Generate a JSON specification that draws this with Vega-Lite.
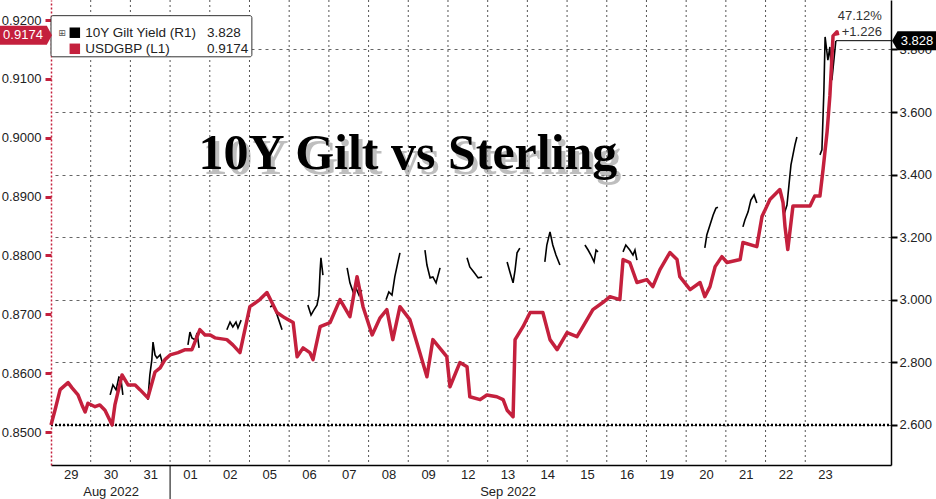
{
"$schema":"https://vega.github.io/schema/vega-lite/v6.json",
"width":840,"height":465,
"autosize":{"type":"none"},
"padding":{"left":51,"top":0,"right":45,"bottom":34},
"background":"#ffffff",
"config":{"view":{"stroke":null},"font":"Liberation Sans"},
"datasets":{
"bounds":[{"t":1},{"t":2},{"t":3},{"t":4},{"t":5},{"t":6},{"t":7},{"t":8},{"t":9},{"t":10},{"t":11},{"t":12},{"t":13},{"t":14},{"t":15},{"t":16},{"t":17},{"t":18},{"t":19}],
"fx":[{"t":0.00,"v":0.8512},{"t":0.10,"v":0.8537},{"t":0.23,"v":0.8572},{"t":0.43,"v":0.8584},{"t":0.53,"v":0.8575},{"t":0.68,"v":0.8563},{"t":0.78,"v":0.8546},{"t":0.86,"v":0.8534},{"t":0.93,"v":0.8549},{"t":1.11,"v":0.8543},{"t":1.23,"v":0.8546},{"t":1.36,"v":0.8537},{"t":1.54,"v":0.8512},{"t":1.61,"v":0.8546},{"t":1.79,"v":0.8597},{"t":1.94,"v":0.8580},{"t":2.12,"v":0.8580},{"t":2.24,"v":0.8572},{"t":2.44,"v":0.8558},{"t":2.62,"v":0.8602},{"t":2.75,"v":0.8609},{"t":2.87,"v":0.8623},{"t":3.00,"v":0.8631},{"t":3.20,"v":0.8635},{"t":3.38,"v":0.8640},{"t":3.55,"v":0.8640},{"t":3.75,"v":0.8674},{"t":3.88,"v":0.8665},{"t":4.01,"v":0.8665},{"t":4.13,"v":0.8660},{"t":4.43,"v":0.8657},{"t":4.58,"v":0.8648},{"t":4.76,"v":0.8635},{"t":5.01,"v":0.8713},{"t":5.26,"v":0.8725},{"t":5.44,"v":0.8737},{"t":5.69,"v":0.8703},{"t":5.89,"v":0.8694},{"t":6.10,"v":0.8686},{"t":6.20,"v":0.8628},{"t":6.35,"v":0.8643},{"t":6.52,"v":0.8635},{"t":6.60,"v":0.8623},{"t":6.78,"v":0.8679},{"t":7.03,"v":0.8686},{"t":7.28,"v":0.8725},{"t":7.53,"v":0.8696},{"t":7.71,"v":0.8764},{"t":7.86,"v":0.8713},{"t":8.09,"v":0.8665},{"t":8.29,"v":0.8694},{"t":8.46,"v":0.8708},{"t":8.61,"v":0.8657},{"t":8.79,"v":0.8713},{"t":9.04,"v":0.8691},{"t":9.29,"v":0.8635},{"t":9.47,"v":0.8594},{"t":9.62,"v":0.8657},{"t":9.97,"v":0.8628},{"t":10.05,"v":0.8577},{"t":10.30,"v":0.8618},{"t":10.48,"v":0.8611},{"t":10.55,"v":0.8560},{"t":10.81,"v":0.8555},{"t":10.98,"v":0.8563},{"t":11.23,"v":0.8560},{"t":11.39,"v":0.8555},{"t":11.49,"v":0.8537},{"t":11.64,"v":0.8526},{"t":11.69,"v":0.8657},{"t":11.89,"v":0.8679},{"t":12.07,"v":0.8703},{"t":12.39,"v":0.8703},{"t":12.57,"v":0.8657},{"t":12.75,"v":0.8640},{"t":13.00,"v":0.8669},{"t":13.25,"v":0.8662},{"t":13.40,"v":0.8679},{"t":13.65,"v":0.8708},{"t":13.90,"v":0.8720},{"t":14.08,"v":0.8730},{"t":14.33,"v":0.8725},{"t":14.41,"v":0.8793},{"t":14.58,"v":0.8788},{"t":14.76,"v":0.8754},{"t":15.01,"v":0.8759},{"t":15.16,"v":0.8747},{"t":15.34,"v":0.8776},{"t":15.59,"v":0.8805},{"t":15.77,"v":0.8793},{"t":15.84,"v":0.8764},{"t":16.10,"v":0.8742},{"t":16.35,"v":0.8754},{"t":16.47,"v":0.8730},{"t":16.60,"v":0.8747},{"t":16.73,"v":0.8781},{"t":16.90,"v":0.8798},{"t":17.03,"v":0.8788},{"t":17.36,"v":0.8793},{"t":17.43,"v":0.8822},{"t":17.78,"v":0.8815},{"t":17.91,"v":0.8866},{"t":18.11,"v":0.8895},{"t":18.36,"v":0.8912},{"t":18.44,"v":0.8890},{"t":18.49,"v":0.8849},{"t":18.56,"v":0.8810},{"t":18.69,"v":0.8884},{"t":18.87,"v":0.8884},{"t":19.12,"v":0.8884},{"t":19.24,"v":0.8901},{"t":19.37,"v":0.8901},{"t":19.45,"v":0.8947},{"t":19.55,"v":0.9010},{"t":19.62,"v":0.9071},{"t":19.67,"v":0.9134},{"t":19.70,"v":0.9173},{"t":19.80,"v":0.9180},{"t":19.82,"v":0.9174}],
"gilt":[{"s":"a","t":1.49,"v":2.696},{"s":"a","t":1.56,"v":2.728},{"s":"a","t":1.64,"v":2.712},{"s":"a","t":1.71,"v":2.753},{"s":"a","t":1.76,"v":2.750},{"s":"a","t":1.81,"v":2.696},
{"s":"b","t":2.44,"v":2.680},{"s":"b","t":2.49,"v":2.760},{"s":"b","t":2.54,"v":2.808},{"s":"b","t":2.57,"v":2.865},{"s":"b","t":2.62,"v":2.824},{"s":"b","t":2.67,"v":2.814},{"s":"b","t":2.75,"v":2.824},{"s":"b","t":2.82,"v":2.792},
{"s":"c","t":3.45,"v":2.856},{"s":"c","t":3.50,"v":2.897},{"s":"c","t":3.55,"v":2.878},{"s":"c","t":3.63,"v":2.872},{"s":"c","t":3.68,"v":2.894},{"s":"c","t":3.73,"v":2.846},
{"s":"d","t":4.43,"v":2.904},{"s":"d","t":4.51,"v":2.929},{"s":"d","t":4.58,"v":2.913},{"s":"d","t":4.66,"v":2.929},{"s":"d","t":4.71,"v":2.910},{"s":"d","t":4.79,"v":2.935},
{"s":"e","t":5.52,"v":2.977},{"s":"e","t":5.59,"v":2.983},{"s":"e","t":5.67,"v":2.961},{"s":"e","t":5.74,"v":2.935},{"s":"e","t":5.82,"v":2.904},
{"s":"f","t":6.47,"v":2.983},{"s":"f","t":6.55,"v":2.951},{"s":"f","t":6.62,"v":2.967},{"s":"f","t":6.70,"v":2.983},{"s":"f","t":6.75,"v":3.015},{"s":"f","t":6.78,"v":3.095},{"s":"f","t":6.80,"v":3.134},{"s":"f","t":6.85,"v":3.079},
{"s":"g","t":7.46,"v":3.102},{"s":"g","t":7.53,"v":3.054},{"s":"g","t":7.61,"v":3.025},{"s":"g","t":7.68,"v":3.038},{"s":"g","t":7.76,"v":3.015},{"s":"g","t":7.83,"v":3.031},
{"s":"h","t":8.44,"v":3.000},{"s":"h","t":8.51,"v":3.025},{"s":"h","t":8.59,"v":3.015},{"s":"h","t":8.66,"v":3.073},{"s":"h","t":8.74,"v":3.121},{"s":"h","t":8.79,"v":3.150},
{"s":"i","t":9.42,"v":3.159},{"s":"i","t":9.47,"v":3.111},{"s":"i","t":9.55,"v":3.070},{"s":"i","t":9.62,"v":3.073},{"s":"i","t":9.70,"v":3.054},{"s":"i","t":9.80,"v":3.102},
{"s":"j","t":10.48,"v":3.134},{"s":"j","t":10.55,"v":3.105},{"s":"j","t":10.65,"v":3.089},{"s":"j","t":10.76,"v":3.070},{"s":"j","t":10.86,"v":3.073},
{"s":"k","t":11.49,"v":3.121},{"s":"k","t":11.56,"v":3.089},{"s":"k","t":11.64,"v":3.054},{"s":"k","t":11.69,"v":3.095},{"s":"k","t":11.74,"v":3.150},{"s":"k","t":11.81,"v":3.165},
{"s":"l","t":12.44,"v":3.121},{"s":"l","t":12.49,"v":3.175},{"s":"l","t":12.57,"v":3.217},{"s":"l","t":12.64,"v":3.175},{"s":"l","t":12.72,"v":3.143},{"s":"l","t":12.82,"v":3.111},
{"s":"m","t":13.45,"v":3.175},{"s":"m","t":13.53,"v":3.159},{"s":"m","t":13.60,"v":3.143},{"s":"m","t":13.68,"v":3.121},{"s":"m","t":13.73,"v":3.159},{"s":"m","t":13.78,"v":3.153},
{"s":"n","t":14.41,"v":3.153},{"s":"n","t":14.48,"v":3.175},{"s":"n","t":14.58,"v":3.159},{"s":"n","t":14.66,"v":3.143},{"s":"n","t":14.71,"v":3.159},{"s":"n","t":14.76,"v":3.127},
{"s":"o","t":16.47,"v":3.166},{"s":"o","t":16.52,"v":3.207},{"s":"o","t":16.60,"v":3.239},{"s":"o","t":16.68,"v":3.271},{"s":"o","t":16.75,"v":3.293},{"s":"o","t":16.80,"v":3.296},
{"s":"p","t":17.43,"v":3.233},{"s":"p","t":17.48,"v":3.255},{"s":"p","t":17.56,"v":3.281},{"s":"p","t":17.63,"v":3.319},{"s":"p","t":17.71,"v":3.335},{"s":"p","t":17.78,"v":3.309},
{"s":"q","t":18.46,"v":3.271},{"s":"q","t":18.54,"v":3.303},{"s":"q","t":18.59,"v":3.367},{"s":"q","t":18.64,"v":3.431},{"s":"q","t":18.69,"v":3.463},{"s":"q","t":18.74,"v":3.495},{"s":"q","t":18.79,"v":3.520},
{"s":"r","t":19.37,"v":3.463},{"s":"r","t":19.42,"v":3.479},{"s":"r","t":19.47,"v":3.670},{"s":"r","t":19.50,"v":3.840},{"s":"r","t":19.57,"v":3.766},{"s":"r","t":19.62,"v":3.808},{"s":"r","t":19.67,"v":3.702},{"s":"r","t":19.77,"v":3.827}]
},
"encoding":{"x":{"field":"t","type":"quantitative","scale":{"domain":[0,21.16],"nice":false,"zero":false},
 "axis":{"values":[0.5,1.5,2.5,3.5,4.5,5.5,6.5,7.5,8.5,9.5,10.5,11.5,12.5,13.5,14.5,15.5,16.5,17.5,18.5,19.5],
 "labelExpr":"datum.value == 1.5 ? ['30','Aug 2022'] : (datum.value == 11.5 ? ['13','Sep 2022'] : ['29','30','31','01','02','05','06','07','08','09','12','13','14','15','16','19','20','21','22','23'][floor(datum.value)])",
 "title":null,"grid":false,"ticks":false,"domainColor":"#000000","domainWidth":1.5,"labelFont":"Liberation Sans","labelFontSize":13,"labelColor":"#222222","labelPadding":3,"labelBaseline":"top","labelLineHeight":17,"labelFlush":false,"labelOverlap":false}}},
"layer":[
 {"data":{"name":"bounds"},"mark":{"type":"rule","color":"#555555","strokeDash":[2,3],"strokeWidth":1}},
 {"encoding":{"y":{"field":"v","type":"quantitative","scale":{"domain":[2.472,3.958],"nice":false,"zero":false},
   "axis":{"orient":"right","values":[2.6,2.8,3.0,3.2,3.4,3.6,3.8],"format":".3f","title":null,"grid":true,"gridDash":[3,4],"gridColor":"#666666","gridWidth":1,"domainColor":"#000000","domainWidth":1.5,"tickColor":"#000000","tickSize":6,"tickWidth":2,"labelFont":"Liberation Sans","labelColor":"#222222","labelFontSize":13,"labelPadding":2}}},
  "layer":[
   {"data":{"values":[{"t":0,"t2":21.16,"v":2.6}]},"mark":{"type":"rule","color":"#000000","strokeWidth":2.5,"strokeDash":[2,2]},"encoding":{"x2":{"field":"t2"}}},
   {"data":{"name":"gilt"},"mark":{"type":"line","color":"#000000","strokeWidth":1.6},"encoding":{"detail":{"field":"s","type":"nominal"}}},
   {"data":{"values":[{"t":19.77,"t2":21.16,"v":3.828}]},"mark":{"type":"rule","color":"#000000","strokeWidth":1},"encoding":{"x2":{"field":"t2"}}},
   {"data":{"values":[{"t":20.93,"v":3.907,"label":"47.12%"},{"t":20.93,"v":3.856,"label":"+1.226"}]},"mark":{"type":"text","align":"right","baseline":"middle","fontSize":13,"color":"#333333","font":"Liberation Sans"},"encoding":{"text":{"field":"label"}}},
   {"data":{"values":[{"t":21.74,"v":3.828}]},"mark":{"type":"point","shape":"M-1,0 L-0.75,-0.43 L1,-0.43 L1,0.43 L-0.75,0.43 Z","size":1936,"filled":true,"color":"#000000","opacity":1}},
   {"data":{"values":[{"t":21.74,"v":3.828,"label":"3.828"}]},"mark":{"type":"text","align":"center","baseline":"middle","dx":3,"fontSize":13,"color":"#ffffff","font":"Liberation Sans"},"encoding":{"text":{"field":"label"}}}
  ]},
 {"encoding":{"y":{"field":"v","type":"quantitative","scale":{"domain":[0.8444,0.9234],"nice":false,"zero":false},
   "axis":{"orient":"left","values":[0.85,0.86,0.87,0.88,0.89,0.90,0.91,0.92],"format":".4f","title":null,"grid":false,"domainColor":"#c4203d","domainDash":[2,2],"domainWidth":1.5,"tickColor":"#c4203d","tickSize":6,"tickWidth":3,"labelFont":"Liberation Sans","labelColor":"#222222","labelFontSize":13,"labelPadding":4}}},
  "layer":[
   {"data":{"name":"fx"},"mark":{"type":"line","color":"#c4203d","strokeWidth":3.5,"strokeJoin":"round"}},
   {"data":{"values":[{"t":3,"v":0.8444,"v2":0.8386}]},"mark":{"type":"rule","color":"#000000","strokeWidth":1},"encoding":{"y2":{"field":"v2"}}},
   {"data":{"values":[{"t":0,"t2":5.06,"v":0.92074,"v2":0.91375}]},"mark":{"type":"rect","fill":"#ffffff","stroke":"#333333","strokeWidth":1,"cornerRadius":2},"encoding":{"x2":{"field":"t2"},"y2":{"field":"v2"}}},
   {"data":{"values":[{"t":0.60,"v":0.91784,"c":"#000000"},{"t":0.60,"v":0.91511,"c":"#c4203d"}]},"mark":{"type":"point","shape":"square","size":110,"filled":true,"opacity":1},"encoding":{"color":{"field":"c","type":"nominal","scale":null}}},
   {"data":{"values":[{"t":0.28,"v":0.91784,"label":"⊞"}]},"mark":{"type":"text","align":"center","baseline":"middle","fontSize":9,"color":"#555555","font":"DejaVu Sans"},"encoding":{"text":{"field":"label"}}},
   {"data":{"values":[{"t":0.86,"v":0.91784,"label":"10Y Gilt Yield (R1)"},{"t":0.86,"v":0.91511,"label":"USDGBP (L1)"},{"t":3.93,"v":0.91784,"label":"3.828"},{"t":3.93,"v":0.91511,"label":"0.9174"}]},"mark":{"type":"text","align":"left","baseline":"middle","fontSize":13.5,"color":"#222222","font":"Liberation Sans"},"encoding":{"text":{"field":"label"}}},
   {"data":{"values":[{"t":8.99,"v":0.8947,"label":"10Y Gilt vs Sterling"}]},"mark":{"type":"text","align":"center","baseline":"alphabetic","dx":4,"dy":5,"fontSize":50,"fontWeight":"bold","font":"Liberation Serif","color":"#8a8a8a","opacity":0.55},"encoding":{"text":{"field":"label"}}},
   {"data":{"values":[{"t":8.99,"v":0.8947,"label":"10Y Gilt vs Sterling"}]},"mark":{"type":"text","align":"center","baseline":"alphabetic","fontSize":50,"fontWeight":"bold","font":"Liberation Serif","color":"#000000"},"encoding":{"text":{"field":"label"}}},
   {"data":{"values":[{"t":-0.63,"v":0.9174}]},"mark":{"type":"point","shape":"M-1,-0.365 L0.8,-0.365 L1,0 L0.8,0.365 L-1,0.365 Z","size":2704,"filled":true,"color":"#c4203d","opacity":1}},
   {"data":{"values":[{"t":-0.63,"v":0.9174,"label":"0.9174"}]},"mark":{"type":"text","align":"center","baseline":"middle","dx":-3,"fontSize":13,"color":"#ffffff","font":"Liberation Sans"},"encoding":{"text":{"field":"label"}}}
  ]}
],
"resolve":{"scale":{"y":"independent","color":"independent"}}
}
